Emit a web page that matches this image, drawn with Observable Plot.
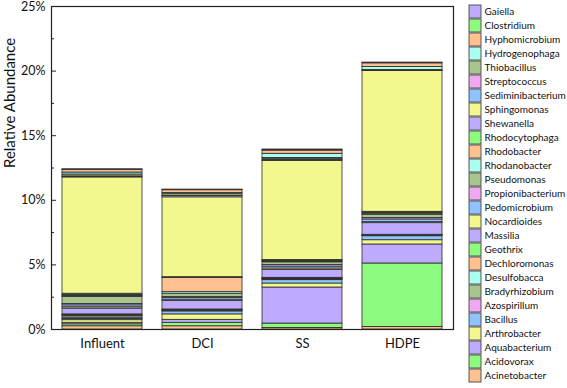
<!DOCTYPE html>
<html><head><meta charset="utf-8">
<script src="https://cdn.jsdelivr.net/npm/d3@7"></script>
<script src="https://cdn.jsdelivr.net/npm/@observablehq/plot@0.6"></script>
<style>
body{margin:0;background:#fff;}
#wrap{position:relative;width:567px;height:388px;font-family:Lato,"Liberation Sans",Arial,sans-serif;}
#wrap svg{position:absolute;left:0;top:0;}
</style></head><body><div id="wrap"></div>
<script>
// categories (x)
const sites = ["Influent", "DCI", "SS", "HDPE"];
// genera, stacking order bottom -> top (legend shows them top -> bottom reversed)
const genera = ["Acinetobacter","Acidovorax","Aquabacterium","Arthrobacter","Bacillus","Azospirillum",
  "Bradyrhizobium","Desulfobacca","Dechloromonas","Geothrix","Massilia","Nocardioides","Pedomicrobium",
  "Propionibacterium","Pseudomonas","Rhodanobacter","Rhodobacter","Rhodocytophaga","Shewanella",
  "Sphingomonas","Sediminibacterium","Streptococcus","Thiobacillus","Hydrogenophaga","Hyphomicrobium",
  "Clostridium","Gaiella"];
// relative abundance (%) per genus, same order as genera
const influent = [0.25,0.15,0.12,0.2,0.1,0.05,0.15,0.05,0.05,0.05,0.45,0.1,0.15,0.1,0.55,0.05,0.05,0.05,0.1,
  9.0,0.05,0.03,0.15,0.15,0.2,0.02,0.03];
const dci = [0.25,0.27,0.23,0.42,0.23,0.03,0.04,0.03,0.03,0.02,0.66,0.1,0.12,0.08,0.26,0.12,1.1,0.03,0.03,
  6.18,0.1,0.03,0.15,0.05,0.22,0.02,0.03];
const ss = [0.12,0.34,2.79,0.31,0.26,0.04,0.04,0.04,0.03,0.03,0.6,0.12,0.15,0.12,0.21,0.05,0.05,0.04,0.04,
  7.67,0.08,0.05,0.1,0.32,0.25,0.03,0.05];
const hdpe = [0.2,4.91,1.47,0.33,0.31,0.03,0.02,0.02,0.02,0.02,0.9,0.08,0.21,0.1,0.26,0.05,0.1,0.03,0.05,
  10.89,0.03,0.03,0.03,0.23,0.28,0.03,0.03];
// repeating 8-colour fill cycle
const palette = ["#FFC18F","#8DFB80","#BEAAFF","#F3F88E","#8FC3FF","#F0A8F5","#A9C48D","#A8FFF2"];
const yTicks = [0, 5, 10, 15, 20, 25];
const yMinorTicks = [2.5, 7.5, 12.5, 17.5, 22.5];
const yTitle = "Relative Abundance";

const seriesBySite = {Influent: influent, DCI: dci, SS: ss, HDPE: hdpe};
const rows = [];
for (const s of sites) genera.forEach((g, i) => rows.push({site: s, genus: g, value: seriesBySite[s][i]}));
const colorRange = genera.map((g, i) => palette[i % palette.length]);

const font = 'Lato, "Liberation Sans", Arial, sans-serif';
const main = Plot.plot({
  width: 567, height: 388,
  marginLeft: 51, marginRight: 114, marginTop: 6, marginBottom: 59,
  style: {fontFamily: font, fontSize: "13px", color: "#111", background: "transparent"},
  x: {domain: sites, paddingInner: 0.2, paddingOuter: 0.11, label: null},
  y: {domain: [0, 25], label: null},
  color: {domain: genera, range: colorRange},
  marks: [
    Plot.barY(rows, Plot.stackY({x: "site", y: "value", fill: "genus", stroke: "#2a2a2a", strokeWidth: 0.8})),
    Plot.axisY({ticks: yTicks, tickFormat: d => d + "%", tickSize: -5, tickPadding: 11, stroke: "#222", fontSize: 12.5}),
    Plot.axisY({ticks: yMinorTicks, tickFormat: () => "", tickSize: -3, stroke: "#222"}),
    Plot.axisX({tickSize: 0, tickPadding: 9}),
    Plot.frame({stroke: "#222", strokeWidth: 1.2}),
    Plot.text([yTitle], {frameAnchor: "left", rotate: -90, dx: -41, fontSize: 15, fill: "#111"})
  ]
});

const legendRows = genera.map((g, i) => ({genus: g, color: colorRange[i]}));
const legend = Plot.plot({
  width: 567, height: 388,
  marginLeft: 469, marginRight: 86, marginTop: 3, marginBottom: 3,
  style: {fontFamily: font, fontSize: "10px", color: "#111", background: "transparent"},
  x: {domain: [0, 1], axis: null},
  y: {domain: genera.slice().reverse(), paddingInner: 0.05, paddingOuter: 0, axis: null},
  marks: [
    Plot.barX(legendRows, {y: "genus", x1: 0, x2: 1, fill: "color", stroke: "#555", strokeWidth: 1}),
    Plot.text(legendRows, {y: "genus", x: 1, text: "genus", dx: 3, textAnchor: "start", fontSize: 10, fill: "#111"})
  ]
});

const wrap = document.getElementById("wrap");
wrap.appendChild(main);
wrap.appendChild(legend);
</script></body></html>
